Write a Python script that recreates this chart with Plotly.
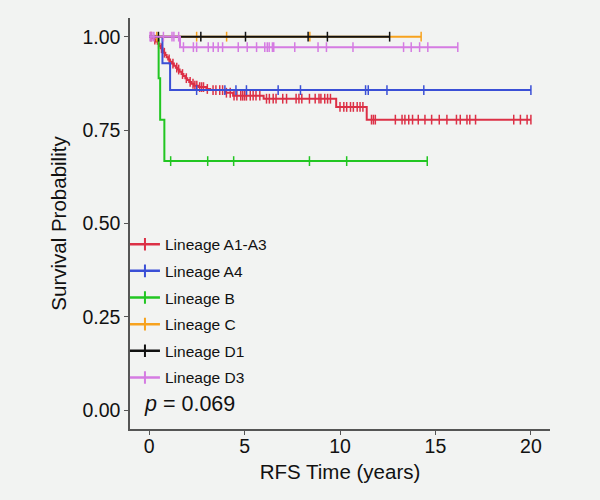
import plotly.graph_objects as go

# ---------------- data ----------------
groups = ["Lineage A1-A3", "Lineage A4", "Lineage B", "Lineage C", "Lineage D1", "Lineage D3"]
colors = ["#dc3046", "#3a4fd6", "#22c622", "#f7a21e", "#111111", "#d57be2"]

# event times / survival after each event, end-of-follow-up time, censor times
a13_event_t = [0.15, 0.25, 0.35, 0.45, 0.55, 0.62, 0.7, 0.78, 0.85, 0.92, 1.0, 1.1, 1.2, 1.3, 1.4,
               1.5, 1.6, 1.7, 1.8, 1.9, 2.0, 2.1, 2.2, 2.35, 2.6, 3.0, 3.2, 4.0, 4.4, 6.0, 9.8, 11.4]
a13_event_s = [0.996, 0.992, 0.987, 0.981, 0.975, 0.969, 0.963, 0.957, 0.951, 0.945, 0.939, 0.933,
               0.928, 0.922, 0.917, 0.912, 0.906, 0.900, 0.895, 0.889, 0.884, 0.879, 0.874, 0.869,
               0.865, 0.860, 0.857, 0.850, 0.842, 0.834, 0.812, 0.778]
a13_end = 20.0
a13_cens = [0.1, 0.3, 0.5, 0.65, 0.8, 1.05, 1.25, 1.45, 1.55, 1.75, 1.95, 2.15, 2.3,
            2.4, 2.5, 2.65, 2.75, 2.85, 3.05, 3.35, 3.5, 3.7, 3.85, 4.05, 4.25, 4.45, 4.6,
            4.8, 4.9, 5.0, 5.1, 5.3, 5.45, 5.6, 5.8, 6.15, 6.3, 6.5, 6.65, 7.0, 7.2, 7.7,
            7.85, 8.0, 8.4, 8.7, 8.9, 9.0, 9.2, 9.35, 9.5, 10.0, 10.2, 10.35, 10.55, 10.7,
            10.9, 11.05, 11.2, 11.65, 11.75, 11.85, 12.9, 13.25, 13.4, 13.6, 13.8, 14.1,
            14.45, 14.8, 15.2, 15.6, 16.1, 16.3, 16.65, 16.8, 17.1, 19.1, 19.45, 19.8, 20.0]

a4_event_t = [0.7, 1.1]
a4_event_s = [0.929, 0.857]
a4_end = 20.0
a4_cens = [2.49, 3.97, 4.55, 5.1, 6.76, 7.93, 11.34, 11.48, 12.46, 14.39, 20.0]

b_event_t = [0.5, 0.58, 0.8]
b_event_s = [0.889, 0.778, 0.667]
b_end = 14.57
b_cens = [1.13, 3.07, 4.43, 8.4, 10.35, 14.57]

c_event_t = []
c_event_s = []
c_end = 14.25
c_cens = [0.4, 2.49, 4.06, 8.42, 14.25]

d1_event_t = []
d1_event_s = []
d1_end = 12.6
d1_cens = [0.49, 2.71, 5.05, 8.33, 9.34, 12.6]

d3_event_t = [1.62]
d3_event_s = [0.972]
d3_end = 16.17
d3_cens = [0.05, 0.15, 0.25, 0.75, 1.2, 1.3, 1.55, 1.8, 2.32, 2.49, 3.1, 3.36, 3.62, 3.85,
           4.67, 5.14, 5.63, 6.06, 6.19, 6.29, 6.46, 6.53, 7.63, 8.85, 9.29, 10.68,
           13.33, 13.73, 14.17, 14.6, 16.17]

p_text = "<i>p</i> = 0.069"

event_times = [a13_event_t, a4_event_t, b_event_t, c_event_t, d1_event_t, d3_event_t]
event_surv = [a13_event_s, a4_event_s, b_event_s, c_event_s, d1_event_s, d3_event_s]
end_times = [a13_end, a4_end, b_end, c_end, d1_end, d3_end]
censor_times = [a13_cens, a4_cens, b_cens, c_cens, d1_cens, d3_cens]


def surv_at(t, ev_t, ev_s):
    s = 1.0
    for et, es in zip(ev_t, ev_s):
        if et <= t:
            s = es
    return s


fig = go.Figure()
for name, col, et, es, end, ct in zip(groups, colors, event_times, event_surv, end_times, censor_times):
    xs = [0.0] + list(et) + [end]
    ys = [1.0] + list(es) + [es[-1] if es else 1.0]
    fig.add_trace(go.Scatter(x=xs, y=ys, mode="lines", line=dict(color=col, width=2, shape="hv"),
                             showlegend=False, hoverinfo="skip"))
    fig.add_trace(go.Scatter(x=ct, y=[surv_at(t, et, es) for t in ct], mode="markers",
                             marker=dict(symbol="line-ns-open", size=7, color=col,
                                         line=dict(color=col, width=1.5)),
                             showlegend=False, hoverinfo="skip"))
    fig.add_trace(go.Scatter(x=[None], y=[None], mode="lines+markers", name=name, legendgroup=name,
                             line=dict(color=col, width=2.5),
                             marker=dict(symbol="line-ns-open", size=9, color=col,
                                         line=dict(color=col, width=2))))

fig.add_annotation(x=-0.35, y=0.018, xref="x", yref="y", text=p_text, showarrow=False,
                   xanchor="left", yanchor="middle", font=dict(size=21.5, color="#111111"))

axis_common = dict(showgrid=False, zeroline=False, showline=True, linecolor="#555555", linewidth=1.5,
                   ticks="outside", ticklen=4, tickwidth=1, tickcolor="#555555",
                   tickfont=dict(size=19.5, color="#111111"))

fig.update_layout(
    width=600, height=500,
    margin=dict(l=130, r=50, t=18, b=71),
    paper_bgcolor="#f2f3f2", plot_bgcolor="#f2f3f2",
    font=dict(family="Liberation Sans, Arial, sans-serif", color="#111111"),
    xaxis=dict(range=[-1, 21], tickvals=[0, 5, 10, 15, 20], ticklabelstandoff=-5,
               title=dict(text="RFS Time (years)", font=dict(size=20.5), standoff=8), **axis_common),
    yaxis=dict(range=[-0.05, 1.05], tickvals=[0, 0.25, 0.5, 0.75, 1.0],
               ticktext=["0.00", "0.25", "0.50", "0.75", "1.00"],
               title=dict(text="Survival Probability", font=dict(size=20.5), standoff=10), **axis_common),
    legend=dict(x=-0.012, y=0.49, xanchor="left", yanchor="top", bgcolor="rgba(0,0,0,0)",
                font=dict(size=15.5, color="#111111"), tracegroupgap=3.5),
)

fig.write_html("out.html", config={"displayModeBar": False},
               post_script="document.body.style.margin='0';"
                           "document.body.style.backgroundColor='#f2f3f2';")
